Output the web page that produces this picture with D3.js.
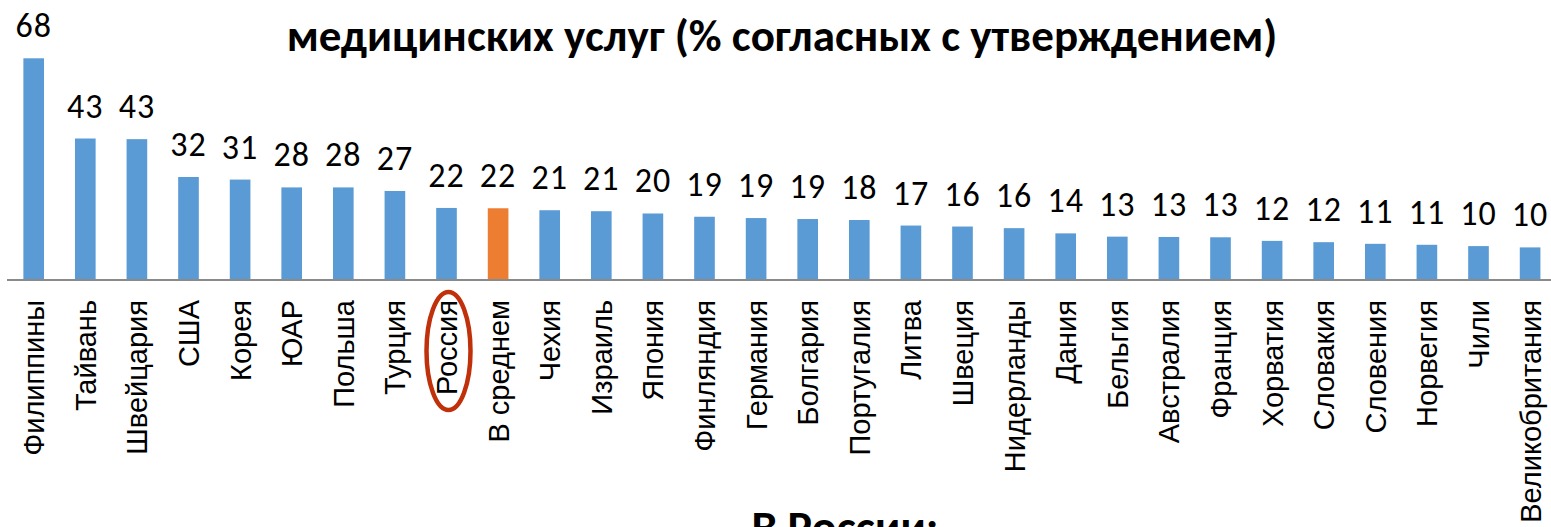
<!DOCTYPE html>
<html>
<head>
<meta charset="utf-8">
<script src="https://cdn.jsdelivr.net/npm/d3@7"></script>
<style>
    html, body { margin: 0; padding: 0; background: #fff; overflow: hidden; }
    svg { display: block; }
</style>
</head>
<body>
<svg id="chart" width="1551" height="527"></svg>
<script>
"use strict"

var categories = [
    'Филиппины', 'Тайвань', 'Швейцария', 'США', 'Корея', 'ЮАР', 'Польша',
    'Турция', 'Россия', 'В среднем', 'Чехия', 'Израиль', 'Япония',
    'Финляндия', 'Германия', 'Болгария', 'Португалия', 'Литва', 'Швеция',
    'Нидерланды', 'Дания', 'Бельгия', 'Австралия', 'Франция', 'Хорватия',
    'Словакия', 'Словения', 'Норвегия', 'Чили', 'Великобритания'
];
var values = [
    68.0, 43.4, 43.2, 31.6, 30.8, 28.4, 28.4, 27.3, 22.1, 22.0,
    21.4, 21.1, 20.4, 19.4, 19.0, 18.7, 18.4, 16.7, 16.4, 15.9,
    14.3, 13.3, 13.2, 13.1, 12.0, 11.6, 11.1, 10.8, 10.4, 10.0
];
var labels = [
    '68', '43', '43', '32', '31', '28', '28', '27', '22', '22',
    '21', '21', '20', '19', '19', '19', '18', '17', '16', '16',
    '14', '13', '13', '13', '12', '12', '11', '11', '10', '10'
];
var averageName = 'В среднем';
var circledName = 'Россия';
var titleText   = 'медицинских услуг (% согласных с утверждением)';
var footerText  = 'В России:';

var blue    = '#5B9BD5';
var orange  = '#ED7D31';
var calibri = "Carlito, Calibri, 'Open Sans', sans-serif";

var svg = d3.select('#chart');

var x = d3.scaleBand()
    .domain(categories)
    .range([7.9, 7.9 + 51.6 * categories.length])
    .paddingInner(0.6)
    .paddingOuter(0.3);

var y = d3.scaleLinear()
    .domain([0, 68])
    .range([280, 58.3]);

var rows = categories.map((c, i) => ({
    name:  c,
    value: values[i],
    label: labels[i]
}));

// title (its first line is cropped off in the source image)
svg.append('text')
    .attr('x', 782)
    .attr('y', 51)
    .attr('text-anchor', 'middle')
    .attr('font-family', calibri)
    .attr('font-weight', 'bold')
    .attr('font-size', '45px')
    .style('fill', '#000')
    .text(titleText);

svg.selectAll('rect.bar').data(rows)
    .enter()
    .append('rect')
    .attr('class', 'bar')
    .attr('x', d => x(d.name))
    .attr('y', d => y(d.value))
    .attr('width', x.bandwidth())
    .attr('height', d => y(0) - y(d.value))
    .style('fill', d => d.name == averageName ? orange : blue);

svg.append('line')
    .attr('x1', 7)
    .attr('x2', 1551)
    .attr('y1', y(0))
    .attr('y2', y(0))
    .style('stroke', '#8a8a8a')
    .style('stroke-width', 2);

svg.selectAll('text.value').data(rows)
    .enter()
    .append('text')
    .attr('class', 'value')
    .attr('x', d => x(d.name) + x.bandwidth() / 2)
    .attr('y', d => y(d.value) - 21)
    .attr('text-anchor', 'middle')
    .attr('font-family', calibri)
    .attr('font-size', '34px')
    .attr('letter-spacing', '1px')
    .style('fill', '#000')
    .text(d => d.label);

svg.selectAll('text.cat').data(rows)
    .enter()
    .append('text')
    .attr('class', 'cat')
    .attr('transform', d =>
        'translate(' + (x(d.name) + x.bandwidth() / 2) + ',300) rotate(-90)')
    .attr('dy', '0.36em')
    .attr('text-anchor', 'end')
    .attr('font-family', "'Liberation Sans', Arial, sans-serif")
    .attr('font-size', '29px')
    .style('fill', '#000')
    .text(d => d.name);

// highlight ring around Russia
svg.append('ellipse')
    .attr('cx', x(circledName) + x.bandwidth() / 2 + 2)
    .attr('cy', 351)
    .attr('rx', 22)
    .attr('ry', 59)
    .style('fill', 'none')
    .style('stroke', '#C0300A')
    .style('stroke-width', 4.5);

svg.append('text')
    .attr('x', 845)
    .attr('y', 543)
    .attr('text-anchor', 'middle')
    .attr('font-family', calibri)
    .attr('font-weight', 'bold')
    .attr('font-size', '46px')
    .style('fill', '#000')
    .text(footerText);
</script>
</body>
</html>
